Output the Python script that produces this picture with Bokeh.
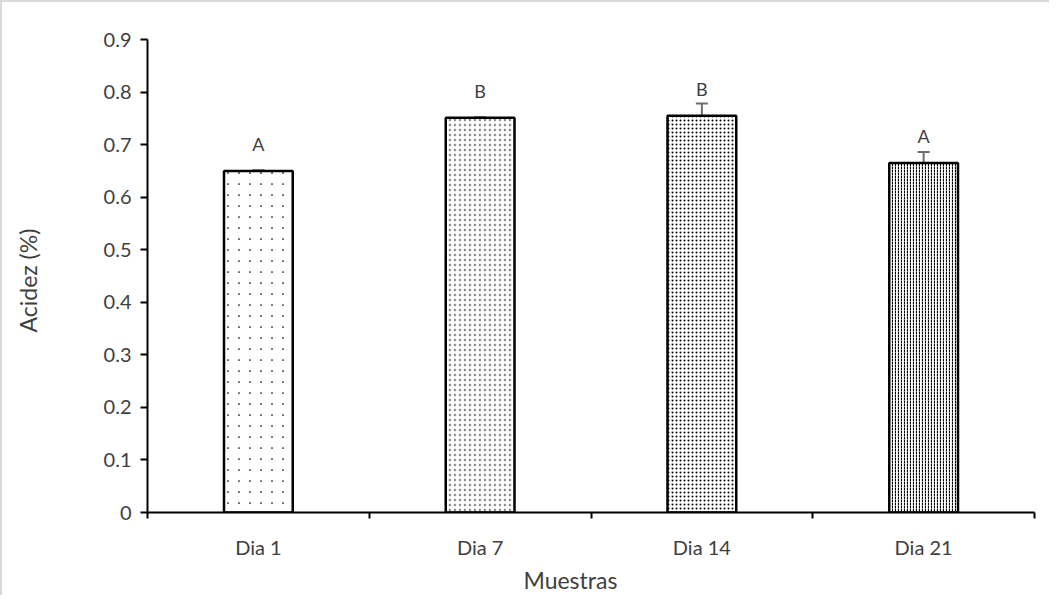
from bokeh.plotting import figure
from bokeh.models import FixedTicker, Range1d, Whisker, ColumnDataSource, Title
from bokeh.embed import file_html
from bokeh.resources import INLINE

categories = ["Dia 1", "Dia 7", "Dia 14", "Dia 21"]
acidez = [0.650, 0.751, 0.755, 0.665]
error = [0.001, 0.001, 0.023, 0.021]
letters = ["A", "B", "B", "A"]
y_ticks = [0, 0.1, 0.2, 0.3, 0.4, 0.5, 0.6, 0.7, 0.8, 0.9]

FONT = "Lato"
TXT = "#404040"

# fill pattern of each bar: (pattern, scale, weight, white ring weight to shrink dots)
fills = [
    ("dot", 11, 1, 3.8),
    ("dot", 5, 1, 0.8),
    ("dot", 4, 1, 0),
    ("vertical_dash", 3, 1.2, 0),
]

xs = [i + 0.5 for i in range(len(categories))]
src = ColumnDataSource(dict(
    x=xs, top=acidez, err=error,
    upper=[v + e for v, e in zip(acidez, error)],
    lower=[v - e for v, e in zip(acidez, error)],
    lab=letters, laby=[v + 0.03 for v in acidez],
))

p = figure(width=1049, height=595, output_backend="svg", toolbar_location=None,
           x_range=Range1d(0, len(categories)), y_range=Range1d(0, 0.9),
           min_border_left=145, min_border_right=17, min_border_top=37, min_border_bottom=85)
p.styles = {"border-top": "2px solid #d9d9d9", "border-left": "2px solid #d9d9d9"}
p.outline_line_color = None
p.xgrid.visible = False
p.ygrid.visible = False
p.background_fill_color = "white"

BW = 0.31
for i in range(len(categories)):
    pat, sc, wt, ring = fills[i]
    p.vbar(x=xs[i], top=acidez[i], width=BW, fill_color="white", line_color=None,
           hatch_pattern=pat, hatch_color="black", hatch_scale=sc, hatch_weight=wt)
    if ring > 0:
        p.vbar(x=xs[i], top=acidez[i], width=BW, fill_color=None, line_color=None,
               hatch_pattern="ring", hatch_color="white", hatch_scale=sc, hatch_weight=ring)
    p.vbar(x=xs[i], top=acidez[i], width=BW, fill_color=None,
           line_color="black", line_width=2.5)

w = Whisker(source=src, base="x", upper="upper", lower="lower",
            line_color="#6e6e6e", line_width=2)
for h in (w.upper_head, w.lower_head):
    h.size = 12
    h.line_color = "#6e6e6e"
    h.line_width = 2
p.add_layout(w)

p.text(x="x", y="laby", text="lab", source=src, text_align="center",
       text_baseline="bottom", text_font_size="18px", text_color=TXT,
       text_font={"value": FONT})

xa = p.xaxis[0]
xa.ticker = FixedTicker(ticks=xs, minor_ticks=list(range(len(categories) + 1)))
xa.major_label_overrides = {x: c for x, c in zip(xs, categories)}
xa.major_tick_out = 0
xa.major_tick_in = 0
xa.minor_tick_out = 6
xa.minor_tick_in = 0
xa.minor_tick_line_color = "black"
xa.minor_tick_line_width = 2
xa.axis_line_width = 2
xa.axis_line_color = "black"
xa.major_label_standoff = 16
xa.major_label_text_font = FONT
xa.major_label_text_font_size = "20px"
xa.major_label_text_color = TXT

ya = p.yaxis[0]
ya.ticker = FixedTicker(ticks=y_ticks)
ya.major_label_overrides = {0: "0"}
ya.major_tick_out = 7
ya.major_tick_in = 0
ya.minor_tick_out = 0
ya.minor_tick_in = 0
ya.major_tick_line_width = 2
ya.major_tick_line_color = "black"
ya.axis_line_width = 2
ya.axis_line_color = "black"
ya.major_label_standoff = 9
ya.major_label_text_font = FONT
ya.major_label_text_font_size = "20px"
ya.major_label_text_color = TXT

# blank spacer panel, then the vertical axis title further out
p.add_layout(Title(text=" ", standoff=51, text_font_size="1px"), "left")
p.add_layout(Title(text="Acidez (%)", align="left", offset=180, standoff=10,
                   text_font=FONT, text_font_size="23px", text_color=TXT,
                   text_font_style="normal"), "left")
p.add_layout(Title(text="Muestras", align="left", offset=376, standoff=4,
                   text_font=FONT, text_font_size="23px", text_color=TXT,
                   text_font_style="normal"), "below")

open("out.html", "w").write(file_html(p, INLINE))
